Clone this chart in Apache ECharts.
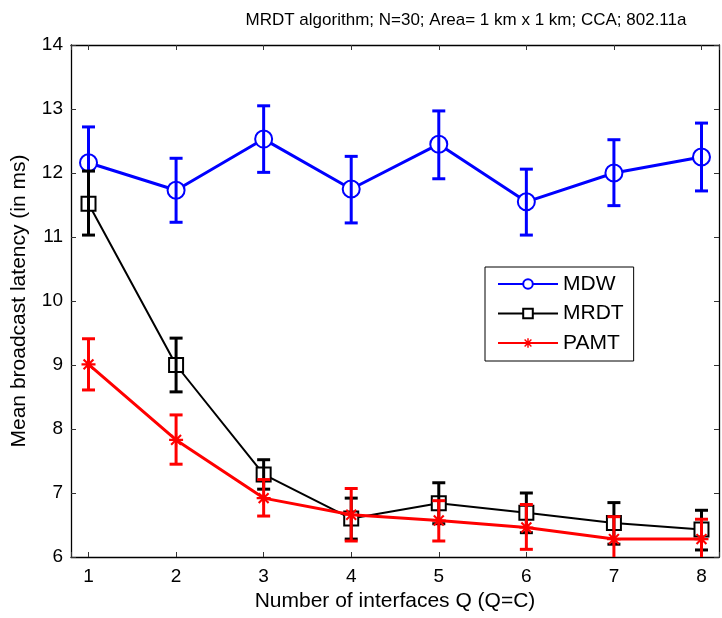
<!DOCTYPE html>
<html>
<head>
<meta charset="utf-8">
<script src="https://cdn.jsdelivr.net/npm/echarts@6/dist/echarts.min.js"></script>
<style>
  html, body { margin: 0; padding: 0; background: #fff; }
  #main { width: 722px; height: 618px; }
</style>
</head>
<body>
<div id="main"></div>
<script>
var interfaces = [1, 2, 3, 4, 5, 6, 7, 8];

var mdwMean  = [12.16, 11.73, 12.53, 11.75, 12.45, 11.55, 12.00, 12.25];
var mdwUpper = [12.72, 12.23, 13.05, 12.26, 12.97, 12.06, 12.52, 12.78];
var mdwLower = [11.60, 11.23, 12.01, 11.22, 11.91, 11.03, 11.49, 11.72];

var mrdtMean  = [11.52, 9.00, 7.29, 6.60, 6.84, 6.69, 6.53, 6.43];
var mrdtUpper = [12.03, 9.42, 7.52, 6.92, 7.16, 7.00, 6.85, 6.73];
var mrdtLower = [11.03, 8.58, 7.06, 6.28, 6.52, 6.38, 6.20, 6.11];

var pamtMean  = [9.01, 7.83, 6.92, 6.66, 6.57, 6.46, 6.28, 6.28];
var pamtUpper = [9.41, 8.22, 7.21, 7.07, 6.88, 6.82, 6.63, 6.59];
var pamtLower = [8.61, 7.45, 6.64, 6.25, 6.25, 6.12, 5.95, 5.97];

var FONT = 'Liberation Sans, Arial, Helvetica, sans-serif';
// asterisk marker, all strokes wound the same way so overlaps stay filled
var STAR = 'path://M8.5 0h3v20h-3Z M0 8.5h20v3h-20Z M3.99 1.87L18.13 16.01L16.01 18.13L1.87 3.99Z M16.01 1.87L18.13 3.99L3.99 18.13L1.87 16.01Z';

function pairs(ys) {
  return interfaces.map(function (x, i) { return [x, ys[i]]; });
}

function errData(lo, hi) {
  return interfaces.map(function (x, i) { return [x, lo[i], hi[i]]; });
}

function errBars(color, width) {
  return function (params, api) {
    var x = api.value(0);
    var top = api.coord([x, api.value(2)]);
    var bot = api.coord([x, api.value(1)]);
    var w = 6.5;
    var style = { stroke: color, lineWidth: width, fill: null };
    return {
      type: 'group',
      children: [
        { type: 'line', shape: { x1: top[0], y1: top[1], x2: bot[0], y2: bot[1] }, style: style },
        { type: 'line', shape: { x1: top[0] - w, y1: top[1], x2: top[0] + w, y2: top[1] }, style: style },
        { type: 'line', shape: { x1: bot[0] - w, y1: bot[1], x2: bot[0] + w, y2: bot[1] }, style: style }
      ]
    };
  };
}

var chart = echarts.init(document.getElementById('main'), null, { renderer: 'canvas' });

var axisCommon = {
  axisLine: { show: true, lineStyle: { color: '#000', width: 1.3 } },
  axisTick: { show: true, inside: true, length: 5, lineStyle: { color: '#333', width: 1 } },
  splitLine: { show: false }
};

var option = {
  animation: false,
  backgroundColor: '#fff',
  title: {
    text: 'MRDT algorithm; N=30; Area= 1 km x 1 km; CCA; 802.11a',
    left: 461,
    top: 7,
    textAlign: 'center',
    textStyle: { fontFamily: FONT, fontSize: 17, fontWeight: 'normal', color: '#000' }
  },
  grid: { left: 71, top: 45, right: 1, bottom: 61 },
  legend: {
    orient: 'vertical',
    left: 485,
    top: 267,
    padding: [6, 10, 7, 12],
    itemWidth: 60,
    itemHeight: 12,
    itemGap: 7.5,
    borderColor: '#000',
    borderWidth: 1,
    backgroundColor: '#fff',
    textStyle: { fontFamily: FONT, fontSize: 21, color: '#000', lineHeight: 22 },
    data: ['MDW', 'MRDT', 'PAMT']
  },
  xAxis: [
    Object.assign({
      type: 'value',
      min: 0.8,
      max: 8.2,
      splitNumber: 8,
      name: 'Number of interfaces Q (Q=C)',
      nameLocation: 'middle',
      nameGap: 31,
      nameTextStyle: { fontFamily: FONT, fontSize: 21, color: '#000' },
      axisLabel: {
        fontFamily: FONT, fontSize: 19, color: '#000', margin: 10,
        formatter: function (v) { return Math.abs(v - Math.round(v)) < 1e-6 ? String(Math.round(v)) : ''; }
      }
    }, axisCommon),
    Object.assign({
      type: 'value',
      position: 'top',
      min: 0.8,
      max: 8.2,
      splitNumber: 8,
      axisLabel: { show: false }
    }, axisCommon)
  ],
  yAxis: [
    Object.assign({
      type: 'value',
      min: 6,
      max: 14,
      interval: 1,
      name: 'Mean broadcast latency (in ms)',
      nameLocation: 'middle',
      nameGap: 41,
      nameTextStyle: { fontFamily: FONT, fontSize: 21, color: '#000' },
      axisLabel: { fontFamily: FONT, fontSize: 19, color: '#000', margin: 8 }
    }, axisCommon),
    Object.assign({
      type: 'value',
      position: 'right',
      min: 6,
      max: 14,
      interval: 1,
      axisLabel: { show: false }
    }, axisCommon)
  ],
  series: [
    {
      name: 'MDW',
      type: 'line',
      z: 2,
      data: pairs(mdwMean),
      symbol: 'emptyCircle',
      symbolSize: 17,
      lineStyle: { color: '#0000ff', width: 3 },
      itemStyle: { color: '#0000ff', borderColor: '#0000ff', borderWidth: 3 }
    },
    {
      name: 'MRDT',
      type: 'line',
      z: 4,
      data: pairs(mrdtMean),
      symbol: 'emptyRect',
      symbolSize: 14,
      lineStyle: { color: '#000', width: 2 },
      itemStyle: { color: '#000', borderColor: '#000', borderWidth: 3 }
    },
    {
      name: 'PAMT',
      type: 'line',
      z: 6,
      data: pairs(pamtMean),
      symbol: STAR,
      symbolSize: 14,
      lineStyle: { color: '#ff0000', width: 3 },
      itemStyle: { color: '#ff0000', borderWidth: 0 }
    },
    {
      type: 'custom',
      z: 3,
      clip: true,
      data: errData(mdwLower, mdwUpper),
      renderItem: errBars('#0000ff', 3),
      encode: { x: 0, y: [1, 2] }
    },
    {
      type: 'custom',
      z: 5,
      clip: true,
      data: errData(mrdtLower, mrdtUpper),
      renderItem: errBars('#000', 3),
      encode: { x: 0, y: [1, 2] }
    },
    {
      type: 'custom',
      z: 7,
      clip: true,
      data: errData(pamtLower, pamtUpper),
      renderItem: errBars('#ff0000', 3),
      encode: { x: 0, y: [1, 2] }
    }
  ]
};

chart.setOption(option);
</script>
</body>
</html>
